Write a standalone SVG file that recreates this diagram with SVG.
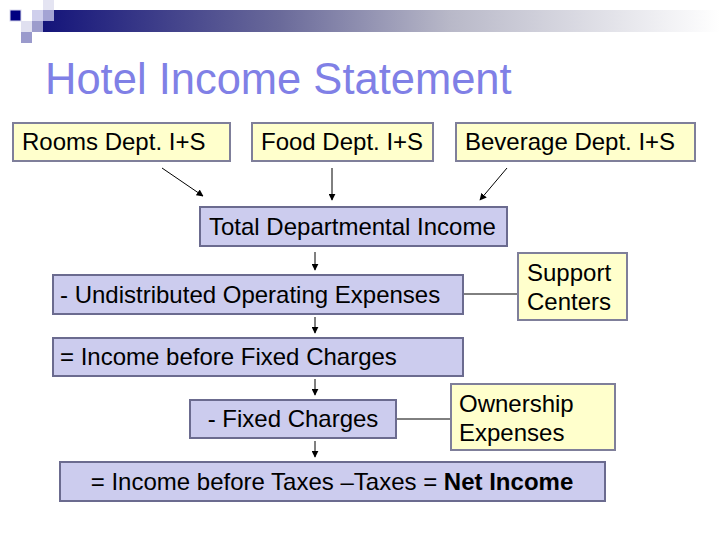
<svg xmlns="http://www.w3.org/2000/svg" width="720" height="540" viewBox="0 0 720 540">
<defs>
<linearGradient id="bar" x1="0" y1="0" x2="1" y2="0">
<stop offset="0" stop-color="#14147a"/>
<stop offset="0.35" stop-color="#6a6a9a"/>
<stop offset="0.6" stop-color="#b8b8c8"/>
<stop offset="1" stop-color="#ffffff"/>
</linearGradient>
<marker id="ah" viewBox="0 0 10 10" refX="9" refY="5" markerWidth="7" markerHeight="7" markerUnits="userSpaceOnUse" orient="auto">
<path d="M0,0 L10,5 L0,10 z" fill="#000"/>
</marker>
<style>
.y{fill:#ffffcc;stroke:#7f7f9a;stroke-width:2}
.p{fill:#ccccee;stroke:#6b6b8f;stroke-width:2}
.t{font-family:"Liberation Sans",Arial,sans-serif;font-size:24px;fill:#000}
.c{stroke:#000;stroke-width:1;fill:none}
</style>
</defs>
<rect width="720" height="540" fill="#fff"/>
<g id="header">
<rect x="43" y="10" width="677" height="22" fill="url(#bar)"/>
<rect x="43" y="0" width="11" height="10" fill="#e4e4f2"/>
<rect x="10" y="10" width="11" height="11" fill="#000080" stroke="#d8d8ee" stroke-width="1"/>
<rect x="32" y="10" width="11" height="11" fill="#cfcfec"/>
<rect x="43" y="10" width="11" height="11" fill="#a4a4d4"/>
<rect x="21" y="21" width="11" height="11" fill="#e0e0f0"/>
<rect x="32" y="21" width="11" height="11" fill="#9c9ccc"/>
<rect x="21" y="32" width="11" height="11" fill="#9a9acc"/>
</g>
<text x="45" y="94" font-family="Liberation Sans,Arial,sans-serif" font-size="43.5" fill="#8080e6">Hotel Income Statement</text>
<g id="connectors">
<line class="c" x1="162" y1="168" x2="203" y2="196" marker-end="url(#ah)"/>
<line class="c" x1="332" y1="168" x2="332" y2="200" marker-end="url(#ah)"/>
<line class="c" x1="507" y1="168" x2="480" y2="200" marker-end="url(#ah)"/>
<line class="c" x1="315" y1="252" x2="315" y2="270" marker-end="url(#ah)"/>
<line class="c" x1="315" y1="317" x2="315" y2="333" marker-end="url(#ah)"/>
<line class="c" x1="315" y1="379" x2="315" y2="395" marker-end="url(#ah)"/>
<line class="c" x1="315" y1="441" x2="315" y2="457" marker-end="url(#ah)"/>
<line class="c" x1="463" y1="294" x2="518" y2="294"/>
<line class="c" x1="396" y1="419" x2="451" y2="419"/>
</g>
<g id="rooms"><rect class="y" x="13" y="123" width="217" height="38"/><text class="t" x="22" y="150">Rooms Dept. I+S</text></g>
<g id="food"><rect class="y" x="252" y="123" width="181" height="38"/><text class="t" x="261" y="150">Food Dept. I+S</text></g>
<g id="beverage"><rect class="y" x="456" y="123" width="239" height="38"/><text class="t" x="465" y="150">Beverage Dept. I+S</text></g>
<g id="total"><rect class="p" x="200" y="207" width="307" height="39"/><text class="t" x="209" y="235">Total Departmental Income</text></g>
<g id="undistributed"><rect class="p" x="53" y="275" width="410" height="39"/><text class="t" x="60" y="303">- Undistributed Operating Expenses</text></g>
<g id="support"><rect class="y" x="518" y="253" width="109" height="67"/><text class="t" x="527" y="281">Support</text><text class="t" x="527" y="310">Centers</text></g>
<g id="ibfc"><rect class="p" x="53" y="338" width="410" height="38"/><text class="t" x="60" y="365">= Income before Fixed Charges</text></g>
<g id="fixed"><rect class="p" x="190" y="400" width="206" height="38"/><text class="t" x="293" y="427" text-anchor="middle">- Fixed Charges</text></g>
<g id="ownership"><rect class="y" x="451" y="384" width="164" height="66"/><text class="t" x="459" y="412">Ownership</text><text class="t" x="459" y="441">Expenses</text></g>
<g id="net"><rect class="p" x="60" y="462" width="545" height="39"/><text class="t" x="332" y="490" text-anchor="middle">= Income before Taxes –Taxes = <tspan font-weight="bold">Net Income</tspan></text></g>
</svg>
